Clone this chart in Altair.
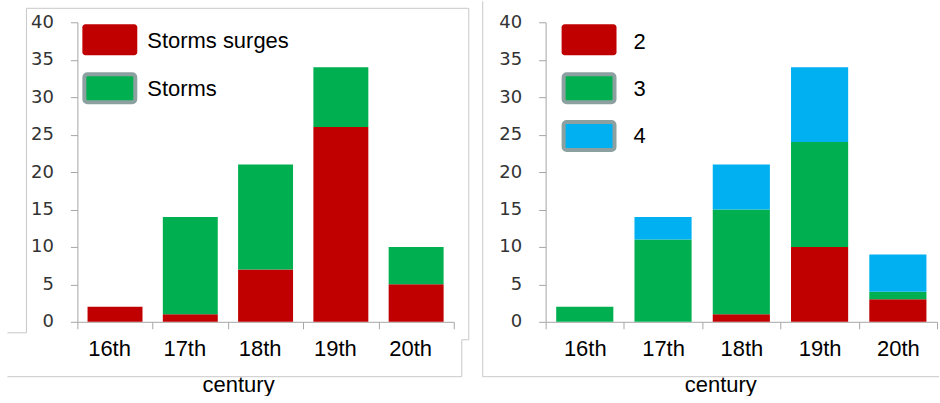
import altair as alt
import pandas as pd

centuries = ["16th", "17th", "18th", "19th", "20th"]

# Left panel: storm surges and storms per century
left_series = ["Storms surges", "Storms"]
storm_surges = [2, 1, 7, 26, 5]
storms = [0, 13, 14, 8, 5]

# Right panel: events per class
right_series = ["2", "3", "4"]
class_2 = [0, 0, 1, 10, 3]
class_3 = [2, 11, 14, 14, 1]
class_4 = [0, 3, 6, 10, 5]

RED, GREEN, BLUE = "#c00000", "#00b050", "#00b0f0"
EDGE = "#8ca0a0"
FRAME = "#c8c8c8"
AXIS = "#a6a6a6"
FONT = "Liberation Sans"


def long_table(names, columns):
    rows = []
    for rank, (name, vals) in enumerate(zip(names, columns)):
        for c, v in zip(centuries, vals):
            rows.append({"century": c, "series": name, "value": v, "rank": rank})
    return pd.DataFrame(rows)


def segment(x1, y1, x2, y2):
    return alt.Chart(alt.Data(values=[{}])).mark_rule(
        color=FRAME, strokeWidth=1
    ).encode(x=alt.value(x1), y=alt.value(y1), x2=alt.value(x2), y2=alt.value(y2))


def legend_layers(names, colors, box_x, text_x, box_tops, text_ys):
    layers = []
    for i, (name, col) in enumerate(zip(names, colors)):
        top = box_tops[i]
        if i == 0:
            box = alt.Chart(alt.Data(values=[{}])).mark_rect(
                color=col, cornerRadius=3
            ).encode(x=alt.value(box_x), x2=alt.value(box_x + 55),
                     y=alt.value(top), y2=alt.value(top + 31))
        else:
            box = alt.Chart(alt.Data(values=[{}])).mark_rect(
                fill=col, stroke=EDGE, strokeWidth=4, cornerRadius=3
            ).encode(x=alt.value(box_x + 2), x2=alt.value(box_x + 53),
                     y=alt.value(top + 2), y2=alt.value(top + 30))
        label = alt.Chart(alt.Data(values=[{}])).mark_text(
            text=name, font=FONT, fontSize=22, color="#000000",
            align="left", baseline="middle"
        ).encode(x=alt.value(text_x), y=alt.value(text_ys[i]))
        layers += [box, label]
    return layers


def bars(df, names, colors, width, title_x, label_offset):
    return alt.Chart(df).mark_bar(width=alt.RelativeBandSize(0.73)).encode(
        x=alt.X(
            "century:N", sort=centuries,
            scale=alt.Scale(paddingInner=0, paddingOuter=0),
            axis=alt.Axis(
                title="century", titleFont=FONT, titleFontSize=22,
                titleFontWeight="normal", titleColor="#000000",
                titleX=title_x, titleY=63, titleBaseline="middle",
                labelAngle=0, labelFont=FONT, labelFontSize=22,
                labelColor="#000000", labelBaseline="middle", labelPadding=20,
                labelOffset=label_offset,
                tickBand="extent", tickSize=7, tickColor=AXIS,
                domainColor=AXIS, grid=False,
            ),
        ),
        y=alt.Y(
            "value:Q", stack="zero",
            scale=alt.Scale(domain=[0, 40], nice=False),
            axis=alt.Axis(
                title=None, values=list(range(0, 41, 5)),
                labelFont="DejaVu Sans", labelFontSize=18, labelColor="#333333",
                labelPadding=17, tickSize=7, tickColor=AXIS,
                domainColor=AXIS, grid=False,
            ),
        ),
        color=alt.Color("series:N", scale=alt.Scale(domain=names, range=colors),
                        legend=None),
        order=alt.Order("rank:Q", sort="ascending"),
    ).properties(width=width, height=300)


left_df = long_table(left_series, [storm_surges, storms])
right_df = long_table(right_series, [class_2, class_3, class_4])

left_frame = [
    segment(-51, -14, 392, -14),
    segment(-51, -14, -51, 311),
    segment(-70, 311, -51, 311),
    segment(392, -14, 392, 318),
    segment(385, 318, 392, 318),
    segment(385, 318, 385, 355),
    segment(-70, 355, 385, 355),
]
right_frame = [
    segment(-63, -21, -63, 355),
    segment(-63, 355, 394, 355),
]

left = alt.layer(
    *left_frame,
    bars(left_df, left_series, [RED, GREEN], 377, 161, -6),
    *legend_layers(left_series, [RED, GREEN], 5, 70, [2, 50], [18.5, 66.5]),
).properties(width=377, height=300)

right = alt.layer(
    *right_frame,
    bars(right_df, right_series, [RED, GREEN, BLUE], 392, 175, 0),
    *legend_layers(right_series, [RED, GREEN, BLUE], 16, 88, [2, 50, 98],
                   [20, 66.5, 113.5]),
).properties(width=392, height=300)

chart = alt.hconcat(left, right, spacing=92, bounds="flush").resolve_scale(
    color="independent", x="independent", y="independent"
).properties(
    padding={"left": 6.5, "top": 0, "right": 0, "bottom": 0},
    background="white",
).configure_view(stroke=None)

chart.save("out.html", embed_options={"renderer": "svg", "actions": False})
